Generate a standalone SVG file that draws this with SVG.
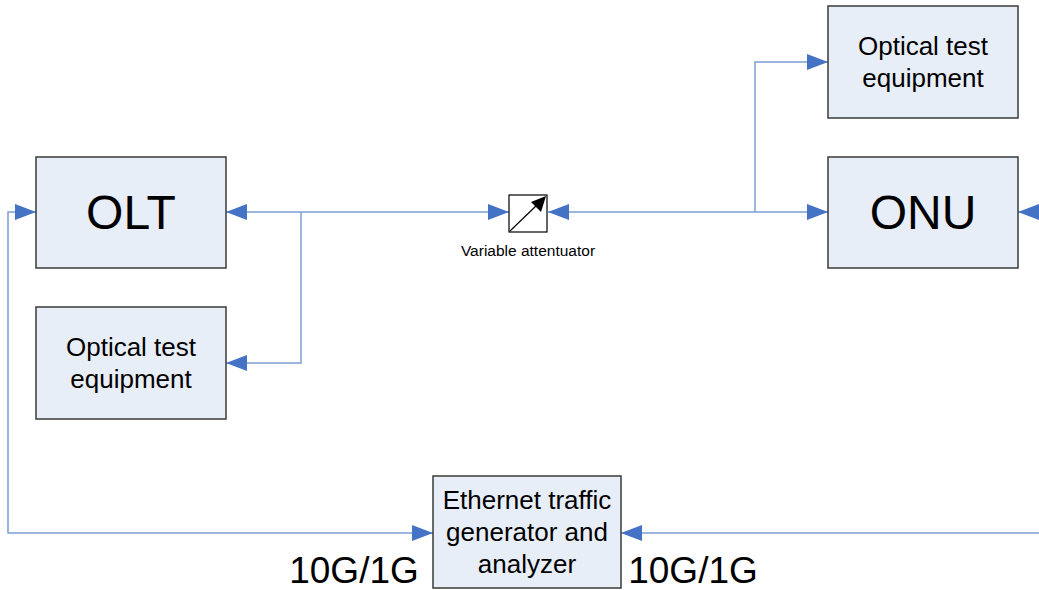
<svg xmlns="http://www.w3.org/2000/svg" width="1039" height="590" viewBox="0 0 1039 590">
<style>
.box{fill:#E8EEF7;stroke:#3a3a3a;stroke-width:1.5}
.ln{fill:none;stroke:#7C9ED6;stroke-width:1.5}
text{font-family:"Liberation Sans",Arial,sans-serif;fill:#000;text-anchor:middle}
.big{font-size:48px}
.mid{font-size:26px}
.lab{font-size:37px}
.sm{font-size:15.5px}
</style>
<defs>
<marker id="ah" markerUnits="userSpaceOnUse" markerWidth="22" markerHeight="16" refX="21" refY="8" orient="auto-start-reverse">
<path d="M0,0 L21,8 L0,16 Z" fill="#4472C4"/>
</marker>
</defs>
<g id="connectors">
<path class="ln" d="M509,212 L226,212" marker-start="url(#ah)" marker-end="url(#ah)"/>
<path class="ln" d="M301,212 L301,363 L226,363" marker-end="url(#ah)"/>
<path class="ln" d="M548,212 L828,212" marker-start="url(#ah)" marker-end="url(#ah)"/>
<path class="ln" d="M755,212 L755,62 L828,62" marker-end="url(#ah)"/>
<path class="ln" d="M433,533 L8,533 L8,212 L36,212" marker-start="url(#ah)" marker-end="url(#ah)"/>
<path class="ln" d="M1045,533 L621,533" marker-end="url(#ah)"/>
<path class="ln" d="M1045,212 L1018,212" marker-end="url(#ah)"/>
</g>
<g id="olt"><rect class="box" x="36" y="157" width="190" height="111"/><text class="big" x="131" y="229">OLT</text></g>
<g id="ote-left"><rect class="box" x="36" y="307" width="190" height="112"/><text class="mid" x="131" y="356">Optical test</text><text class="mid" x="131" y="388">equipment</text></g>
<g id="ote-right"><rect class="box" x="828" y="6" width="190" height="112"/><text class="mid" x="923" y="55">Optical test</text><text class="mid" x="923" y="87">equipment</text></g>
<g id="onu"><rect class="box" x="828" y="157" width="190" height="111"/><text class="big" x="923" y="229">ONU</text></g>
<g id="attenuator"><rect x="509" y="195" width="38" height="37" fill="#fff" stroke="#000" stroke-width="1.2"/>
<line x1="510" y1="231" x2="538" y2="204" stroke="#000" stroke-width="1.2"/>
<path d="M546,196 L541,212 L531,202 Z" fill="#000"/>
<text class="sm" x="528" y="256">Variable attentuator</text></g>
<g id="ethernet"><rect class="box" x="433" y="476" width="188" height="112"/><text class="mid" x="527" y="509">Ethernet traffic</text><text class="mid" x="527" y="541">generator and</text><text class="mid" x="527" y="573">analyzer</text></g>
<text class="lab" x="354" y="583">10G/1G</text>
<text class="lab" x="693" y="583">10G/1G</text>
</svg>
